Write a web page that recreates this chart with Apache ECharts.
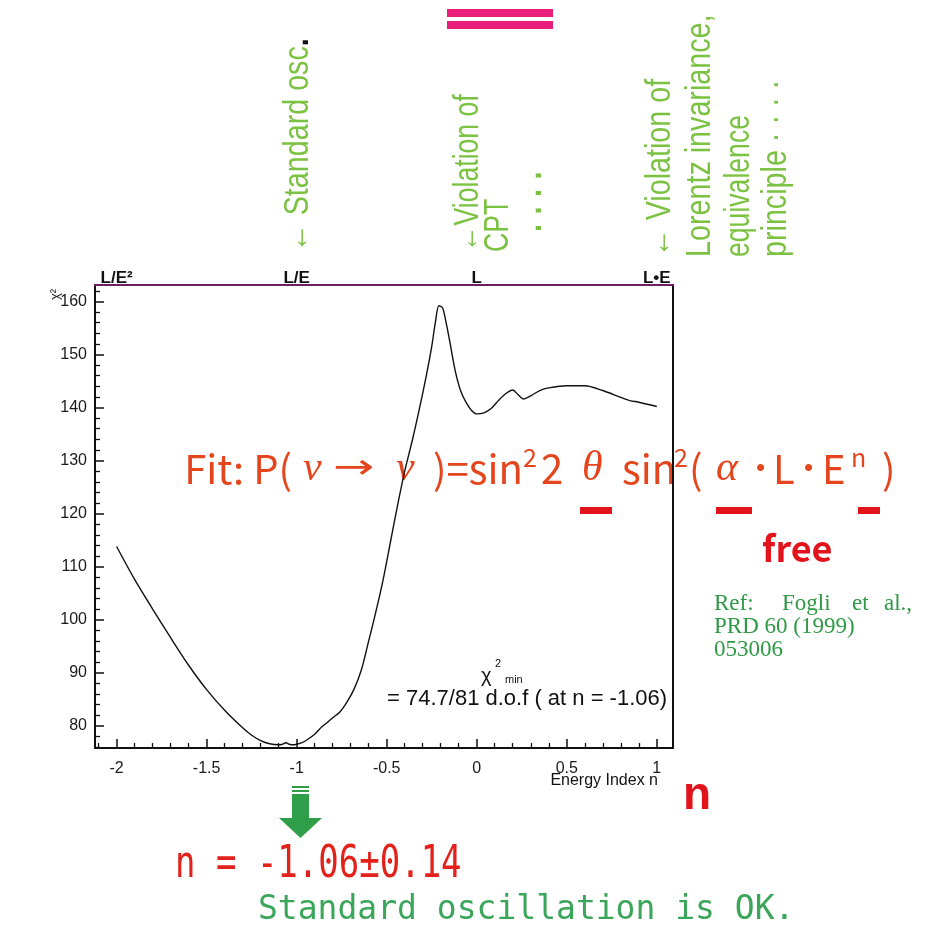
<!DOCTYPE html>
<html><head><meta charset="utf-8">
<script src="https://cdn.jsdelivr.net/npm/echarts@6.0.0/dist/echarts.min.js"></script>
<style>html,body{margin:0;padding:0;background:#fff}#c{width:949px;height:941px}</style>
</head><body><div id="c"></div>
<script>
// ---- data ----
const energyIndex = [-2.0,-1.9,-1.8,-1.7,-1.6,-1.5,-1.4,-1.3,-1.25,-1.2,-1.15,-1.1,-1.08,-1.06,-1.04,-1.02,-1.0,-0.97,-0.94,-0.9,-0.86,-0.83,-0.8,-0.76,-0.72,-0.68,-0.64,-0.6,-0.56,-0.52,-0.48,-0.44,-0.4,-0.36,-0.32,-0.28,-0.25,-0.23,-0.21,-0.19,-0.17,-0.15,-0.12,-0.09,-0.06,-0.03,0.0,0.04,0.08,0.12,0.16,0.2,0.23,0.26,0.3,0.35,0.4,0.5,0.6,0.7,0.8,0.85,0.9,1.0];
const chi2 = [113.8,107.6,102.0,96.6,91.4,86.8,82.9,79.6,78.2,77.2,76.6,76.4,76.5,76.8,76.5,76.4,76.5,76.8,77.4,78.4,79.8,80.6,81.5,82.6,84.5,87.0,90.6,96.0,101.5,107.5,114.5,121.5,128.0,133.5,139.5,146.0,151.5,156.0,159.2,158.8,156.0,152.5,147.0,143.2,141.0,139.5,138.8,139.0,139.8,141.3,142.6,143.3,142.4,141.6,142.2,143.2,143.7,144.1,144.1,143.2,141.9,141.3,141.0,140.2];
const xTickValues = [-2,-1.5,-1,-0.5,0,0.5,1];
const yTickValues = [80,90,100,110,120,130,140,150,160];
const topTickValues = [-2,-1,0,1];
const topTickLabels = ['L/E²','L/E','L','L•E'];

const xMinor = []; for (let k=-21;k<=10;k++){ if (k%5!==0) xMinor.push(k/10); }
const yMinor = []; for (let v=76; v<=162; v+=2){ if (v%10!==0) yMinor.push(v); }

const GREEN = '#7cc242', FORM = '#e4451d', RED = '#e3131b', REFG = '#2f9a45';
const rotStyle = {fill:GREEN, fontSize:35, fontFamily:'Liberation Sans', align:'left', verticalAlign:'middle', textAlign:'left', textVerticalAlign:'middle'};
const rot = (x,y,text,st,sx) => ({type:'text', x:x, y:y, rotation:Math.PI/2, scaleX:sx||0.82,
  style:Object.assign({}, rotStyle, {text:text}, st||{})});
const txt = (x,y,text,st) => ({type:'text', x:x, y:y, style:Object.assign({text:text, align:'left', verticalAlign:'middle', textAlign:'left', textVerticalAlign:'middle'}, st)});
const fStyle = {fill:FORM, fontSize:40, fontFamily:'Noto Sans CJK JP'};
const supStyle = {fill:FORM, fontSize:25, fontFamily:'Noto Sans CJK JP'};
const dotStyle = {fill:FORM, fontSize:26, fontFamily:'Liberation Sans'};
const gStyle = {fill:FORM, fontSize:42, fontFamily:'Liberation Serif', fontStyle:'italic'};
const refStyle = {fill:REFG, fontSize:23, fontFamily:'Liberation Serif'};
const FY = 469;

const chart = echarts.init(document.getElementById('c'));
chart.setOption({
  animation:false,
  grid:{left:95, right:276, top:285, bottom:193},
  xAxis:[
    {type:'value', position:'bottom', min:-2.12, max:1.09, splitLine:{show:false},
     axisLine:{onZero:false, lineStyle:{color:'#111', width:2}},
     axisTick:{inside:true, length:9, customValues:xTickValues, lineStyle:{color:'#111', width:1.5}},
     axisLabel:{customValues:xTickValues, formatter:v=>String(v), margin:13, fontSize:16, color:'#1a1a1a', fontFamily:'Liberation Sans'}},
    {type:'value', position:'bottom', min:-2.12, max:1.09, splitLine:{show:false},
     axisLine:{show:false, onZero:false}, axisLabel:{show:false},
     axisTick:{inside:true, length:5, customValues:xMinor, lineStyle:{color:'#111', width:1.3}}},
    {type:'value', position:'top', min:-2.12, max:1.09, splitLine:{show:false},
     axisLine:{onZero:false, lineStyle:{color:'#6d1f63', width:2}}, axisTick:{show:false},
     axisLabel:{customValues:topTickValues, formatter:v=>topTickLabels[topTickValues.indexOf(v)] || '', margin:-2, fontSize:17, fontWeight:'bold', color:'#111', fontFamily:'Liberation Sans'}}
  ],
  yAxis:[
    {type:'value', position:'left', min:75.8, max:163.1, splitLine:{show:false},
     axisLine:{onZero:false, lineStyle:{color:'#111', width:2}},
     axisTick:{inside:true, length:9, customValues:yTickValues, lineStyle:{color:'#111', width:1.5}},
     axisLabel:{customValues:yTickValues, margin:8, fontSize:16, color:'#1a1a1a', fontFamily:'Liberation Sans'}},
    {type:'value', position:'left', min:75.8, max:163.1, splitLine:{show:false},
     axisLine:{show:false, onZero:false}, axisLabel:{show:false},
     axisTick:{inside:true, length:5, customValues:yMinor, lineStyle:{color:'#111', width:1.3}}},
    {type:'value', position:'right', min:75.8, max:163.1, splitLine:{show:false},
     axisLine:{onZero:false, lineStyle:{color:'#111', width:2}}, axisTick:{show:false}, axisLabel:{show:false}}
  ],
  series:[{type:'line', xAxisIndex:0, yAxisIndex:0, data:energyIndex.map((x,i)=>[x,chi2[i]]),
    showSymbol:false, smooth:0.3, lineStyle:{color:'#111', width:1.4}}],
  graphic:[
    // pink double bar
    {type:'rect', shape:{x:447,y:9,width:106,height:8}, style:{fill:'#e91e7a'}},
    {type:'rect', shape:{x:447,y:21,width:106,height:8}, style:{fill:'#e91e7a'}},
    // rotated green annotations
    rot(298,252,'← Standard osc{d|.}', {rich:{d:{fill:'#111', fontSize:35, fontWeight:'bold', fontFamily:'Liberation Sans'}}}),
    rot(468,252,'←Violation of', null, 0.76),
    rot(498,252,'CPT', null, 0.76),
    rot(540,232,'· · · ·', {fontWeight:'bold'}),
    rot(660,257,'← Violation of'),
    rot(700,257,'Lorentz invariance,'),
    rot(739,257,'equivalence', null, 0.76),
    rot(776,257,'principle · · · ·'),
    // y axis name
    {type:'text', x:55, y:300, rotation:Math.PI/2, style:{text:'χ²', fill:'#222', fontSize:13, fontFamily:'Liberation Sans', align:'left', verticalAlign:'middle'}},
    // formula
    txt(292,FY,'Fit: P(',Object.assign({},fStyle,{align:'right',textAlign:'right'})),
    txt(303,FY,'ν',gStyle),
    Object.assign(txt(333,FY,'→',Object.assign({},fStyle,{fontFamily:'DejaVu Sans', fontSize:34})),{scaleX:1.45}),
    txt(396,FY,'ν',gStyle),
    txt(433,FY,')=sin',fStyle),
    txt(523,FY-12,'2',supStyle),
    txt(541,FY,'2',fStyle),
    txt(582,FY,'θ',gStyle),
    txt(622,FY,'sin',fStyle),
    txt(674,FY-12,'2',supStyle),
    txt(689,FY,'(',fStyle),
    txt(716,FY,'α',gStyle),
    txt(756,FY,'•',dotStyle),
    txt(773,FY,'L',fStyle),
    txt(804,FY,'•',dotStyle),
    txt(822,FY,'E',fStyle),
    txt(851,FY-12,'n',supStyle),
    txt(882,FY,')',fStyle),
    {type:'rect', shape:{x:580,y:507,width:32,height:7}, style:{fill:RED}},
    {type:'rect', shape:{x:716,y:507,width:36,height:7}, style:{fill:RED}},
    {type:'rect', shape:{x:858,y:507,width:22,height:7}, style:{fill:RED}},
    txt(762,548,'free',{fill:RED, fontSize:36, fontWeight:'bold', fontFamily:'Noto Sans CJK JP'}),
    // chi2 min annotation
    txt(481,676,'χ',{fill:'#111', fontSize:20, fontFamily:'Liberation Sans'}),
    txt(495,664,'2',{fill:'#111', fontSize:11, fontFamily:'Liberation Sans'}),
    txt(505,680,'min',{fill:'#111', fontSize:11, fontFamily:'Liberation Sans'}),
    txt(387,699,'= 74.7/81 d.o.f ( at n = -1.06)',{fill:'#111', fontSize:22, fontFamily:'Liberation Sans'}),
    // reference
    txt(714,604,'Ref:',refStyle),
    txt(782,604,'Fogli',refStyle),
    txt(852,604,'et',refStyle),
    txt(884,604,'al.,',refStyle),
    txt(714,627,'PRD 60 (1999)',refStyle),
    txt(714,650,'053006',refStyle),
    // x axis name
    txt(658,781,'Energy Index n',{fill:'#111', fontSize:16, fontFamily:'Liberation Sans', align:'right', textAlign:'right'}),
    txt(683,796,'n',{fill:RED, fontSize:46, fontWeight:'bold', fontFamily:'Liberation Sans'}),
    // green arrow
    {type:'rect', shape:{x:292,y:786,width:17,height:2}, style:{fill:'#2e9e48'}},
    {type:'rect', shape:{x:292,y:790,width:17,height:2}, style:{fill:'#2e9e48'}},
    {type:'rect', shape:{x:292,y:794,width:17,height:25}, style:{fill:'#2e9e48'}},
    {type:'polygon', shape:{points:[[279,818],[322,818],[300.5,838]]}, style:{fill:'#2e9e48'}},
    // results
    Object.assign(txt(175,866,'n = -1.06±0.14',{fill:'#e3231b', fontSize:34, fontFamily:'DejaVu Sans Mono'}),{scaleY:1.3}),
    txt(258,910,'Standard oscillation is OK.',{fill:'#3aa659', fontSize:33, fontFamily:'DejaVu Sans Mono'})
  ]
});
</script></body></html>
